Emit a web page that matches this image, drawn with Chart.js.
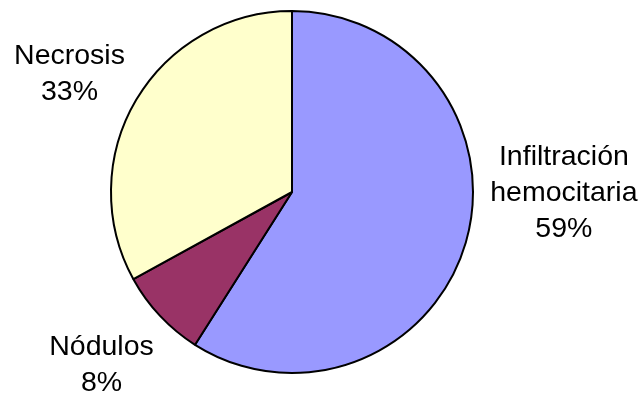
<!DOCTYPE html>
<html>
<head>
<meta charset="utf-8">
<script src="https://cdn.jsdelivr.net/npm/chart.js@4/dist/chart.umd.min.js"></script>
<style>
  html, body { margin: 0; padding: 0; background: #fff; }
  #wrap { width: 642px; height: 397px; position: relative; }
</style>
</head>
<body>
<div id="wrap"><canvas id="pie"></canvas></div>
<script>
// Lesion types, share of cases (%)
const categories = ["Infiltración hemocitaria", "Nódulos", "Necrosis"];
const labelLines = [["Infiltración", "hemocitaria"], ["Nódulos"], ["Necrosis"]];
const shares = [59, 8, 33];
const sliceColors = ["#9999FF", "#993366", "#FFFFCC"];

// Outside labels: name lines + percent, pushed out along the slice's mid angle.
const outsideLabels = {
  id: "outsideLabels",
  afterDraw(chart, args, opts) {
    const ctx = chart.ctx;
    const meta = chart.getDatasetMeta(0);
    const data = chart.data.datasets[0].data;
    const total = data.reduce((a, b) => a + b, 0);
    ctx.save();
    ctx.font = opts.font;
    ctx.fillStyle = opts.color;
    ctx.textAlign = "center";
    ctx.textBaseline = "middle";
    meta.data.forEach((arc, i) => {
      const p = arc.getProps(["x", "y", "startAngle", "endAngle", "outerRadius"], true);
      const mid = (p.startAngle + p.endAngle) / 2;
      const dx = Math.cos(mid), dy = Math.sin(mid);
      const lines = labelLines[i].concat(Math.round(data[i] / total * 100) + "%");
      const w = Math.max(...lines.map((t) => ctx.measureText(t).width));
      const h = lines.length * opts.lineHeight;
      const ext = (w / 2) * Math.abs(dx) + (h / 2) * Math.abs(dy);
      const d = p.outerRadius + opts.gap + ext;
      const nudge = opts.nudge[i] || [0, 0];
      const cx = p.x + dx * d + nudge[0];
      const cy = p.y + dy * d + nudge[1];
      lines.forEach((t, k) => {
        ctx.fillText(t, cx, cy + (k - (lines.length - 1) / 2) * opts.lineHeight);
      });
    });
    ctx.restore();
  }
};

new Chart(document.getElementById("pie"), {
  type: "pie",
  data: {
    labels: categories,
    datasets: [{
      data: shares,
      backgroundColor: sliceColors,
      borderColor: "#000",
      borderWidth: 2
    }]
  },
  options: {
    responsive: true,
    maintainAspectRatio: false,
    animation: false,
    layout: { padding: { left: 110, right: 168, top: 10, bottom: 23 } },
    plugins: {
      legend: { display: false },
      tooltip: { enabled: false },
      outsideLabels: {
        font: "28.5px 'Liberation Sans', Arial, sans-serif",
        color: "#000",
        lineHeight: 36,
        gap: 8,
        nudge: [[8, -76], [-7, 1], [-3, 12]]
      }
    }
  },
  plugins: [outsideLabels]
});
</script>
</body>
</html>
